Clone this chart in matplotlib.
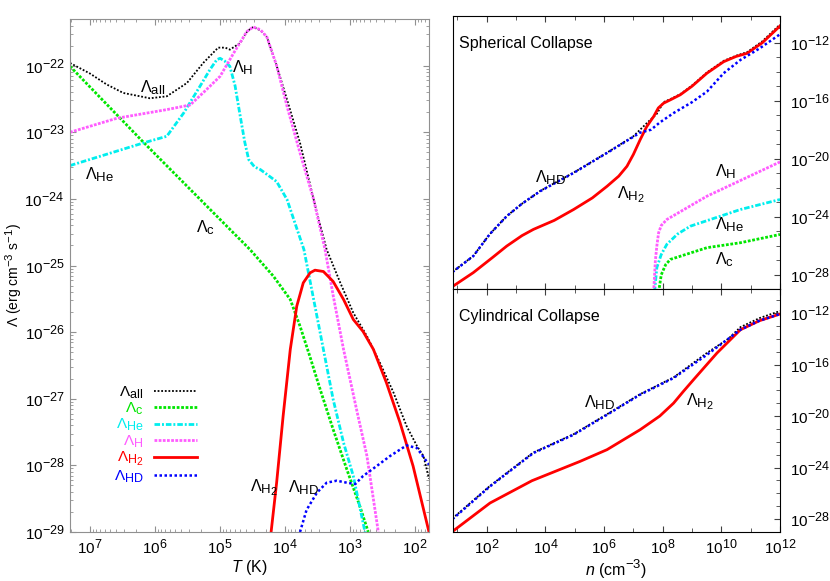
import numpy as np
import matplotlib.pyplot as plt
import matplotlib._mathtext as mathtext_internal
from matplotlib.ticker import LogLocator, LogFormatterMathtext, NullFormatter, FixedLocator

plt.rcParams['font.family'] = ['Liberation Sans', 'DejaVu Sans']
plt.rcParams['mathtext.fontset'] = 'custom'
plt.rcParams['mathtext.rm'] = 'Liberation Sans'
plt.rcParams['mathtext.it'] = 'Liberation Sans:italic'
plt.rcParams['mathtext.bf'] = 'Liberation Sans:bold'
plt.rcParams['font.size'] = 11.5
# gnuplot-style sub/superscripts are bigger than matplotlib's default
mathtext_internal.SHRINK_FACTOR = 0.82

# ---- left panel: cooling function vs temperature (log10 values)
T_all = [7.31, 7.0, 6.75, 6.49, 6.08, 5.82, 5.51, 5.26, 5.03, 4.92, 4.85, 4.69, 4.58, 4.49, 4.38, 4.28,
         4.13, 3.97, 3.77, 3.51, 3.36, 3.15, 2.95, 2.74, 2.54, 2.33, 2.13, 1.97, 1.87, 1.785]
L_all = [-21.96, -22.12, -22.28, -22.41, -22.49, -22.46, -22.26, -21.96, -21.73, -21.73, -21.76, -21.66,
         -21.48, -21.42, -21.47, -21.57, -22.0, -22.51, -23.16, -24.21, -24.76, -25.26, -25.71, -26.06,
         -26.46, -26.91, -27.41, -27.71, -27.86, -28.2]

T_c = [7.31, 6.2, 5.05, 4.54, 4.18, 3.92, 3.77, 3.62, 3.46, 3.26, 3.05, 2.85, 2.72]
L_c = [-22.01, -23.13, -24.26, -24.76, -25.16, -25.51, -25.91, -26.36, -26.86, -27.46, -28.06, -28.61, -29.0]

T_He = [7.31, 6.18, 5.82, 5.56, 5.31, 5.15, 5.05, 5.0, 4.93, 4.85, 4.77, 4.69, 4.62, 4.56, 4.47, 4.38,
        4.13, 3.97, 3.71, 3.56, 3.41, 3.26, 3.10, 2.95, 2.77]
L_He = [-23.50, -23.16, -23.06, -22.71, -22.31, -22.05, -21.91, -21.89, -21.93, -22.01, -22.3, -22.76,
        -23.15, -23.41, -23.52, -23.56, -23.74, -24.01, -24.76, -25.51, -26.26, -27.01, -27.66, -28.16, -29.0]

T_H = [7.31, 6.59, 5.82, 5.46, 5.21, 5.0, 4.79, 4.59, 4.49, 4.38, 4.28, 4.13, 3.97, 3.77, 3.56, 3.385,
       3.26, 3.10, 2.90, 2.74, 2.565]
L_H = [-23.0, -22.79, -22.66, -22.59, -22.36, -22.16, -21.81, -21.49, -21.42, -21.46, -21.57, -22.0,
       -22.61, -23.31, -24.01, -24.76, -25.45, -26.26, -27.16, -27.86, -29.0]

T_H2 = [4.215, 4.13, 4.03, 3.92, 3.82, 3.72, 3.615, 3.54, 3.41, 3.26, 3.10, 2.95, 2.80, 2.64, 2.44,
        2.23, 2.03, 1.785]
L_H2 = [-29.0, -28.26, -27.26, -26.26, -25.61, -25.26, -25.11, -25.07, -25.09, -25.24, -25.51, -25.81,
        -25.99, -26.26, -26.76, -27.36, -28.01, -29.0]

T_HD = [3.77, 3.67, 3.51, 3.36, 3.205, 3.05, 2.92, 2.80, 2.59, 2.385, 2.13, 1.97, 1.785]
L_HD = [-29.0, -28.67, -28.41, -28.26, -28.23, -28.26, -28.28, -28.16, -28.01, -27.86, -27.70, -27.74, -27.99]

# ---- right top: spherical collapse, cooling rate vs density
ns_all = [0.83, 1.54, 2.1, 2.68, 3.2, 3.82, 4.96, 6.10, 7.0, 7.46, 7.8, 8.03, 8.3, 8.6, 9.0, 9.51, 10.08,
          10.5, 10.88, 11.4, 12.0]
Ls_all = [-27.8, -26.7, -25.2, -23.95, -23.1, -22.22, -20.96, -19.58, -18.45, -17.54, -16.9, -16.1,
          -15.85, -15.55, -14.95, -14.05, -13.25, -12.9, -12.65, -11.9, -10.75]
ns_H2 = [0.83, 1.54, 2.2, 2.68, 3.2, 3.59, 4.3, 4.96, 5.6, 6.10, 6.5, 6.78, 7.0, 7.23, 7.45, 7.69, 7.85,
         8.03, 8.3, 8.6, 9.0, 9.51, 10.08, 10.5, 10.88, 11.4, 12.0]
Ls_H2 = [-28.81, -27.85, -26.8, -26.02, -25.3, -24.87, -24.25, -23.5, -22.7, -21.9, -21.2, -20.52, -19.7,
         -18.69, -17.8, -17.09, -16.5, -16.17, -15.9, -15.59, -15.0, -14.10, -13.31, -12.95, -12.73,
         -12.0, -10.85]
ns_HD = [0.83, 1.54, 2.1, 2.68, 3.2, 3.82, 4.96, 6.10, 7.23, 7.6, 7.9, 8.37, 9.0, 9.51, 10.08, 10.65,
         11.3, 12.0]
Ls_HD = [-27.81, -26.71, -25.2, -23.96, -23.1, -22.24, -20.98, -19.60, -18.2, -18.0, -17.5, -16.85,
         -16.1, -15.37, -14.10, -13.19, -12.4, -11.42]
ns_H = [7.69, 7.75, 7.8, 7.86, 7.95, 8.14, 9.51, 12.0]
Ls_H = [-29.2, -27.0, -26.0, -25.1, -24.6, -24.19, -22.58, -20.22]
ns_He = [7.72, 7.8, 7.95, 8.14, 8.5, 8.94, 10.65, 12.0]
Ls_He = [-29.2, -27.5, -26.6, -25.90, -25.2, -24.65, -23.50, -22.81]
ns_c = [7.86, 7.95, 8.1, 8.26, 9.51, 10.65, 12.0]
Ls_c = [-29.2, -28.0, -27.3, -26.94, -26.13, -25.79, -25.22]

# ---- right bottom: cylindrical collapse
nc_all = [0.83, 2.11, 3.0, 3.59, 4.96, 6.10, 7.23, 8.37, 9.51, 10.24, 10.65, 11.3, 12.0]
Lc_all = [-27.95, -25.42, -23.86, -22.83, -21.41, -19.86, -18.30, -17.0, -15.1, -14.0, -13.1, -12.4, -11.85]
nc_HD = [0.83, 2.11, 3.0, 3.59, 4.96, 6.10, 7.23, 8.37, 9.51, 10.65, 11.3, 12.0]
Lc_HD = [-28.0, -25.46, -23.9, -22.87, -21.45, -19.90, -18.34, -17.05, -15.24, -13.30, -12.6, -12.08]
nc_H2 = [0.83, 2.11, 3.54, 5.18, 6.10, 7.23, 7.9, 8.37, 8.7, 9.05, 9.85, 10.65, 11.3, 12.0]
Lc_H2 = [-28.96, -26.75, -25.02, -23.52, -22.61, -21.06, -20.0, -19.0, -18.1, -17.18, -15.11, -13.30,
         -12.6, -12.08]

styles = {
    'all': dict(color='black', lw=1.3, ls=(0, (1, 1))),
    'c': dict(color='#00e600', lw=2.0, ls=(0, (1, 0.6))),
    'He': dict(color='#00eeee', lw=2.0, ls=(0, (2, 0.7, 0.7, 0.7))),
    'H': dict(color='#ff5cff', lw=2.0, ls=(0, (1, 0.5))),
    'H2': dict(color='#ff0000', lw=2.0, ls='-'),
    'HD': dict(color='#0000ff', lw=1.8, ls=(0, (1, 1))),
}
labels = {'all': r'$\Lambda_{\rm all}$', 'c': r'$\Lambda_{\rm c}$', 'He': r'$\Lambda_{\rm He}$',
          'H': r'$\Lambda_{\rm H}$', 'H2': r'$\Lambda_{\rm H_2}$', 'HD': r'$\Lambda_{\rm HD}$'}


def p(ax, x, y, key, lab=None):
    ax.plot(10 ** np.array(x), 10 ** np.array(y), label=lab, **styles[key])


fig = plt.figure(figsize=(8.3, 5.81), dpi=100)

axL = fig.add_axes([70 / 830, 49 / 581, 359 / 830, 513 / 581])
p(axL, T_all, L_all, 'all', labels['all'])
p(axL, T_c, L_c, 'c', labels['c'])
p(axL, T_He, L_He, 'He', labels['He'])
p(axL, T_H, L_H, 'H', labels['H'])
p(axL, T_H2, L_H2, 'H2', labels['H2'])
p(axL, T_HD, L_HD, 'HD', labels['HD'])
axL.set_xscale('log')
axL.set_yscale('log')
axL.set_xlim(10 ** 7.31, 10 ** 1.785)
axL.set_ylim(1e-29, 10 ** -21.3)
axL.xaxis.set_major_locator(FixedLocator([1e2, 1e3, 1e4, 1e5, 1e6, 1e7]))
axL.xaxis.set_minor_locator(LogLocator(subs=np.arange(2, 10), numticks=20))
axL.yaxis.set_major_locator(FixedLocator([10.0 ** k for k in range(-29, -21)]))
axL.yaxis.set_minor_locator(LogLocator(subs=np.arange(2, 10), numticks=20))
axL.xaxis.set_major_formatter(LogFormatterMathtext())
axL.yaxis.set_major_formatter(LogFormatterMathtext())
axL.xaxis.set_minor_formatter(NullFormatter())
axL.yaxis.set_minor_formatter(NullFormatter())
axL.tick_params(which='both', direction='in', top=True, right=True, color='#909090', labelsize=11)
axL.tick_params(which='major', length=4)
axL.tick_params(which='minor', length=2)
axL.tick_params(axis='y', pad=4)
axL.tick_params(axis='x', pad=4)
for s in axL.spines.values():
    s.set_color('#909090')
axL.set_xlabel(r'$T$ (K)', labelpad=1)
axL.set_ylabel(r'$\Lambda$ (erg cm$^{-3}$ s$^{-1}$)', fontsize=10)
axL.yaxis.set_label_coords(-0.128, 0.5)

leg = axL.legend(loc='upper right', bbox_to_anchor=(0.354, 0.288), frameon=False, markerfirst=False,
                 labelcolor='linecolor', fontsize=11, handlelength=2.85, handletextpad=0.65,
                 labelspacing=0.0, borderpad=0, borderaxespad=0)

axL.text(10 ** 6.23, 10 ** -22.33, labels['all'], ha='left', va='center')
axL.text(10 ** 4.815, 10 ** -22.03, labels['H'], ha='left', va='center')
axL.text(10 ** 7.08, 10 ** -23.64, labels['He'], ha='left', va='center')
axL.text(10 ** 5.37, 10 ** -24.43, labels['c'], ha='left', va='center')
axL.text(10 ** 4.54, 10 ** -28.33, labels['H2'], ha='left', va='center')
axL.text(10 ** 3.95, 10 ** -28.33, labels['HD'], ha='left', va='center')

# ---- right panels
axT = fig.add_axes([452.5 / 830, 291.7 / 581, 327.5 / 830, 273.6 / 581])
axB = fig.add_axes([452.5 / 830, 49 / 581, 327.5 / 830, 243 / 581])

p(axT, ns_all, Ls_all, 'all')
p(axT, ns_c, Ls_c, 'c')
p(axT, ns_He, Ls_He, 'He')
p(axT, ns_H, Ls_H, 'H')
p(axT, ns_H2, Ls_H2, 'H2')
p(axT, ns_HD, Ls_HD, 'HD')

p(axB, nc_all, Lc_all, 'all')
p(axB, nc_H2, Lc_H2, 'H2')
p(axB, nc_HD, Lc_HD, 'HD')

for ax in (axT, axB):
    ax.set_xscale('log')
    ax.set_yscale('log')
    ax.set_xlim(10 ** 0.83, 1e12)
    ax.set_ylim(1e-29, 10 ** -10.14)
    ax.xaxis.set_major_locator(FixedLocator([10.0 ** k for k in range(2, 13, 2)]))
    ax.xaxis.set_minor_locator(FixedLocator([10.0 ** k for k in range(1, 13, 2)]))
    ax.yaxis.set_major_locator(FixedLocator([10.0 ** k for k in range(-28, -11, 4)]))
    ax.yaxis.set_minor_locator(FixedLocator([10.0 ** k for k in range(-29, -10)]))
    ax.xaxis.set_major_formatter(LogFormatterMathtext())
    ax.yaxis.set_major_formatter(LogFormatterMathtext())
    ax.xaxis.set_minor_formatter(NullFormatter())
    ax.yaxis.set_minor_formatter(NullFormatter())
    ax.yaxis.tick_right()
    ax.tick_params(which='both', direction='in', top=True, bottom=True, left=False, right=True,
                   labelleft=False, labelright=True, labelsize=11, color='#404040')
    ax.tick_params(which='major', length=4)
    ax.tick_params(which='minor', length=3)
    ax.tick_params(axis='y', pad=7)
    ax.tick_params(axis='x', pad=4)

axT.tick_params(labelbottom=False)
axB.set_xlabel(r'$n$ (cm$^{-3}$)', labelpad=1)

axT.text(0.021, 0.90, 'Spherical Collapse', transform=axT.transAxes, ha='left', va='center')
axB.text(0.021, 0.885, 'Cylindrical Collapse', transform=axB.transAxes, ha='left', va='center')

axT.text(10 ** 3.65, 10 ** -21.30, labels['HD'], ha='left', va='center')
axT.text(10 ** 6.44, 10 ** -22.47, labels['H2'], ha='left', va='center')
axT.text(10 ** 9.79, 10 ** -20.89, labels['H'], ha='left', va='center')
axT.text(10 ** 9.79, 10 ** -24.53, labels['He'], ha='left', va='center')
axT.text(10 ** 9.79, 10 ** -26.93, labels['c'], ha='left', va='center')

axB.text(10 ** 5.30, 10 ** -18.99, labels['HD'], ha='left', va='center')
axB.text(10 ** 8.80, 10 ** -18.87, labels['H2'], ha='left', va='center')

fig.savefig('out.png', dpi=100)
